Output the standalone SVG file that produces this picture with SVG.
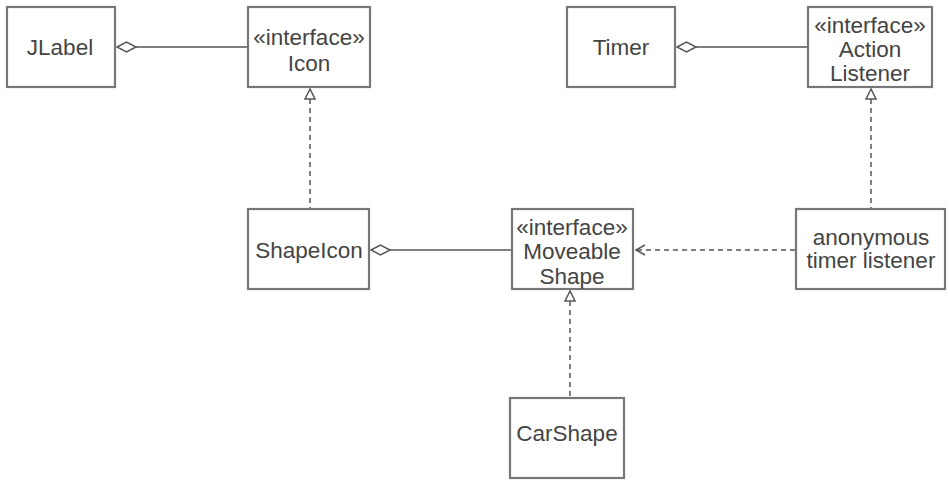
<svg xmlns="http://www.w3.org/2000/svg" width="950" height="480" viewBox="0 0 950 480">
<defs>
<style>
.box{fill:#fff;stroke:#777;stroke-width:2.2}
.t{font-family:"Liberation Sans",Arial,sans-serif;font-size:22.5px;fill:#444;text-anchor:middle}
.ln{stroke:#555;stroke-width:1.5;fill:none}
.dash{stroke:#555;stroke-width:1.5;fill:none;stroke-dasharray:5,4}
.dia{fill:#fff;stroke:#555;stroke-width:1.5}
.tri{fill:#fff;stroke:#555;stroke-width:1.5}
</style>
</defs>
<rect width="950" height="480" fill="#fff"/>
<g id="connectors">
<line class="ln" x1="136" y1="47" x2="248" y2="47"/>
<polygon class="dia" points="117,47 126.5,42 136,47 126.5,52"/>
<line class="ln" x1="696" y1="47" x2="808" y2="47"/>
<polygon class="dia" points="677,47 686.5,42 696,47 686.5,52"/>
<line class="ln" x1="390" y1="250" x2="512" y2="250"/>
<polygon class="dia" points="371,250 380.5,245 390,250 380.5,255"/>
<line class="dash" x1="310" y1="99" x2="310" y2="209"/>
<polygon class="tri" points="310,89 305,99 315,99"/>
<line class="dash" x1="871" y1="99" x2="871" y2="209"/>
<polygon class="tri" points="871,89 866,99 876,99"/>
<line class="dash" x1="570" y1="301" x2="570" y2="398"/>
<polygon class="tri" points="570,291 565,301 575,301"/>
<line class="dash" x1="637" y1="250" x2="796" y2="250"/>
<polyline class="ln" points="645,245 636,250 645,255"/>
</g>
<g id="JLabel"><rect class="box" x="7" y="7" width="108" height="80"/><text class="t" x="60" y="55">JLabel</text></g>
<g id="Icon"><rect class="box" x="248" y="7" width="122" height="80"/><text class="t" x="309" y="45">«interface»</text><text class="t" x="309" y="71">Icon</text></g>
<g id="Timer"><rect class="box" x="567" y="7" width="108" height="80"/><text class="t" x="621" y="55">Timer</text></g>
<g id="ActionListener"><rect class="box" x="808" y="7" width="124" height="80"/><text class="t" x="870" y="33">«interface»</text><text class="t" x="870" y="57">Action</text><text class="t" x="870" y="81">Listener</text></g>
<g id="ShapeIcon"><rect class="box" x="248" y="209" width="121" height="80"/><text class="t" x="309" y="258">ShapeIcon</text></g>
<g id="MoveableShape"><rect class="box" x="512" y="209" width="121" height="80"/><text class="t" x="572" y="235">«interface»</text><text class="t" x="572" y="259">Moveable</text><text class="t" x="572" y="284">Shape</text></g>
<g id="AnonymousTimerListener"><rect class="box" x="796" y="209" width="149" height="80"/><text class="t" x="871" y="245">anonymous</text><text class="t" x="871" y="268">timer listener</text></g>
<g id="CarShape"><rect class="box" x="510" y="398" width="114" height="80"/><text class="t" x="567" y="441">CarShape</text></g>
</svg>
